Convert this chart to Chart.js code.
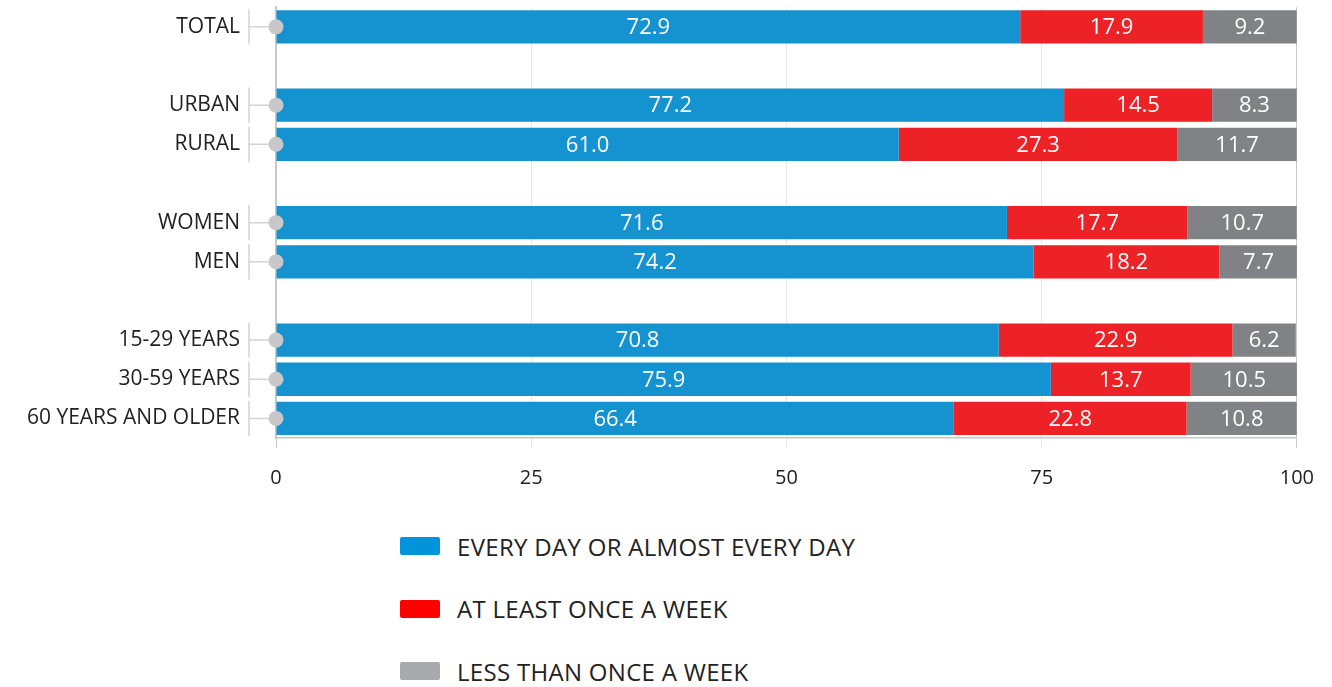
<!DOCTYPE html>
<html>
<head>
<meta charset="utf-8">
<script src="https://cdn.jsdelivr.net/npm/chart.js@4"></script>
<style>
  body { margin: 0; background: #fff; font-family: "Open Sans", sans-serif; }
  #wrap { position: relative; width: 1332px; height: 500px; }
  #legend { position: relative; width: 1332px; height: 187px; }
  .item { position: absolute; left: 400px; height: 24px; display: flex; align-items: center; }
  .box { width: 40px; height: 18px; border-radius: 2px; margin-right: 17px; }
  .txt { font-size: 24px; color: #222; letter-spacing: 0.3px; }
</style>
</head>
<body>
<div id="wrap"><canvas id="myChart"></canvas></div>
<div id="legend"></div>
<script>
// '' rows are the gaps between groups
let labels = ['TOTAL', '', 'URBAN', 'RURAL', '', 'WOMEN', 'MEN', '', '15-29 YEARS', '30-59 YEARS', '60 YEARS AND OLDER'];
let daily = [72.9, null, 77.2, 61.0, null, 71.6, 74.2, null, 70.8, 75.9, 66.4];
let weekly = [17.9, null, 14.5, 27.3, null, 17.7, 18.2, null, 22.9, 13.7, 22.8];
let lessOften = [9.2, null, 8.3, 11.7, null, 10.7, 7.7, null, 6.2, 10.5, 10.8];
let seriesNames = ['EVERY DAY OR ALMOST EVERY DAY', 'AT LEAST ONCE A WEEK', 'LESS THAN ONCE A WEEK'];
let barColors = ['#1592d0', '#ed2227', '#808285'];
let legendColors = ['#0095da', '#ff0000', '#a7a9ac'];
let xTicks = [0, 25, 50, 75, 100];

let fontFamily = '"Open Sans", sans-serif';

// brackets + dots on the category axis
let axisDeco = {
    id: 'axisDeco',
    afterDatasetsDraw(chart) {
        let ctx = chart.ctx;
        let y = chart.scales.y;
        let left = chart.chartArea.left;
        let step = y.getPixelForValue(1) - y.getPixelForValue(0);
        ctx.save();
        labels.forEach((lab, i) => {
            if (!lab) return;
            let cy = y.getPixelForValue(i);
            ctx.strokeStyle = '#d4d4d4';
            ctx.lineWidth = 1.5;
            ctx.beginPath();
            ctx.moveTo(249, cy - step * 0.45);
            ctx.lineTo(249, cy + step * 0.45);
            ctx.moveTo(249, cy);
            ctx.lineTo(left, cy);
            ctx.stroke();
            ctx.fillStyle = '#c8c8ca';
            ctx.beginPath();
            ctx.arc(left, cy, 7.5, 0, Math.PI * 2);
            ctx.fill();
        });
        ctx.restore();
    }
};

// white value labels inside the segments
let valueLabels = {
    id: 'valueLabels',
    afterDatasetsDraw(chart) {
        let ctx = chart.ctx;
        ctx.save();
        ctx.fillStyle = '#fff';
        ctx.font = '22px ' + fontFamily;
        ctx.textAlign = 'center';
        ctx.textBaseline = 'middle';
        chart.data.datasets.forEach((ds, d) => {
            let meta = chart.getDatasetMeta(d);
            meta.data.forEach((bar, i) => {
                let v = ds.data[i];
                if (v == null) return;
                let x = (bar.x + bar.base) / 2;
                ctx.fillText(v.toFixed(1), x, bar.y + 1);
            });
        });
        ctx.restore();
    }
};

let ctx1 = document.getElementById('myChart').getContext('2d');
let chart1 = new Chart(ctx1, {
    type: 'bar',
    data: {
        labels: labels,
        datasets: [daily, weekly, lessOften].map((arr, k) => ({
            label: seriesNames[k],
            data: arr,
            backgroundColor: barColors[k],
            barPercentage: 0.85,
            categoryPercentage: 1
        }))
    },
    options: {
        indexAxis: 'y',
        responsive: true,
        maintainAspectRatio: false,
        animation: false,
        layout: { padding: { top: 6, right: 34, left: 0, bottom: 0 } },
        plugins: {
            legend: { display: false },
            tooltip: { enabled: false }
        },
        scales: {
            x: {
                stacked: true,
                min: 0,
                max: 100,
                afterBuildTicks: s => { s.ticks = xTicks.map(v => ({ value: v })); },
                afterFit: s => { s.height = 62; },
                grid: {
                    color: c => (c.tick && (c.tick.value === 0 || c.tick.value === 100)) ? '#c8c8c8' : '#e8e8e8',
                    lineWidth: 1,
                    tickLength: 10
                },
                border: { display: true, color: '#c8c8c8', width: 1.5 },
                ticks: {
                    padding: 18,
                    color: '#222',
                    font: { family: fontFamily, size: 20 }
                }
            },
            y: {
                stacked: true,
                afterFit: s => { s.width = 276; },
                grid: { display: false, drawTicks: true, tickLength: 34 },
                border: { display: true, color: '#c8c8c8', width: 2 },
                ticks: {
                    padding: 2,
                    color: '#222',
                    font: { family: fontFamily, size: 21, lineHeight: 0.5 }
                }
            }
        }
    },
    plugins: [valueLabels, axisDeco]
});

// legend as a vertical list under the chart
let legendBox = document.getElementById('legend');
seriesNames.forEach((name, k) => {
    let row = document.createElement('div');
    row.className = 'item';
    row.style.top = (34 + k * 62.5) + 'px';
    row.innerHTML = '<div class="box" style="background:' + legendColors[k] + '"></div><span class="txt">' + name + '</span>';
    legendBox.appendChild(row);
});
</script>
</body>
</html>
